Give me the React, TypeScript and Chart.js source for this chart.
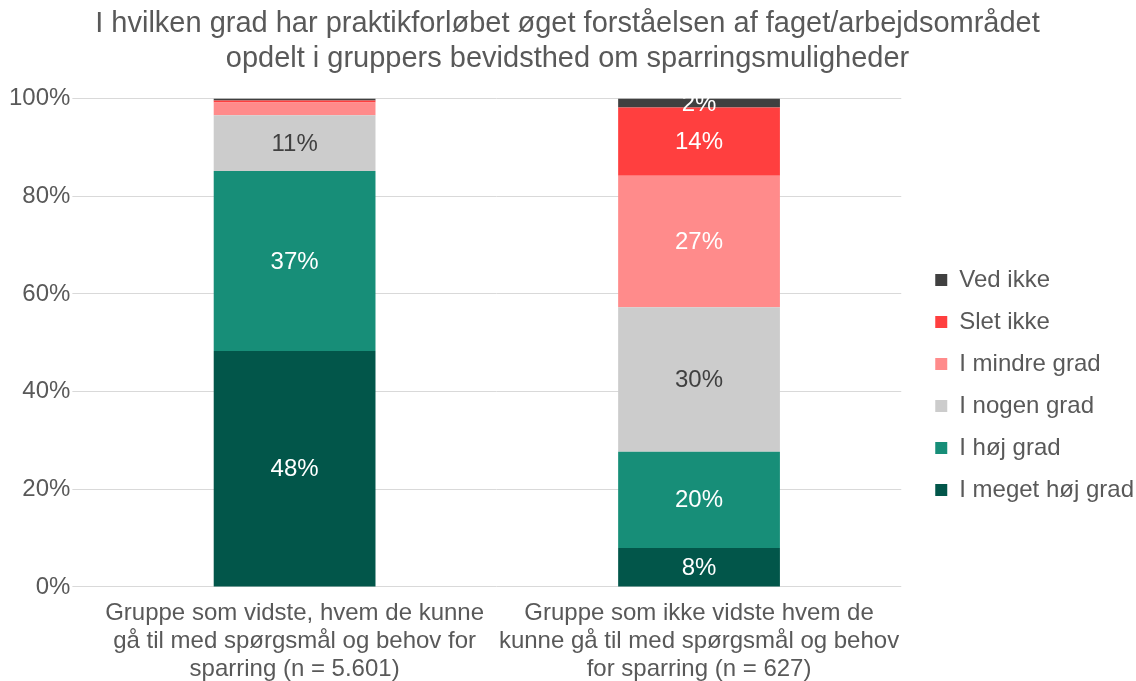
import React, { useEffect, useRef } from "react";
import { Chart, registerables } from "chart.js";

Chart.register(...registerables);

const titleLines = [
  "I hvilken grad har praktikforløbet øget forståelsen af faget/arbejdsområdet",
  "opdelt i gruppers bevidsthed om sparringsmuligheder",
];

const categories = [
  ["Gruppe som vidste, hvem de kunne", "gå til med spørgsmål og behov for", "sparring (n = 5.601)"],
  ["Gruppe som ikke vidste hvem de", "kunne gå til med spørgsmål og behov", "for sparring (n = 627)"],
];

const seriesNames = ["I meget høj grad", "I høj grad", "I nogen grad", "I mindre grad", "Slet ikke", "Ved ikke"];
const meget = [48.3, 8.0];
const hoej = [36.9, 19.7];
const nogen = [11.4, 29.6];
const mindre = [2.6, 26.9];
const slet = [0.4, 14.0];
const vedIkke = [0.4, 1.8];
const seriesColors = ["#02564a", "#178e78", "#cccccc", "#ff8b8b", "#ff3f3f", "#404040"];
const labelColors = ["#ffffff", "#ffffff", "#404040", "#ffffff", "#ffffff", "#ffffff"];
const minLabelValue = 1.5;
const showLabels = [
  [true, true],
  [true, true],
  [true, true],
  [false, true],
  [false, true],
  [false, true],
];
const yTicks = [0, 20, 40, 60, 80, 100];

const FONT = "'Liberation Sans', Arial, sans-serif";
const LEGEND_SHIFT = 16;

const labelPlugin = {
  id: "segLabels",
  afterLayout(chart: any) {
    const lg = chart.legend;
    if (lg) {
      lg.left += LEGEND_SHIFT;
      lg.right += LEGEND_SHIFT;
    }
  },
  afterDatasetsDraw(chart: any) {
    const ctx = chart.ctx;
    ctx.save();
    ctx.font = `24px ${FONT}`;
    ctx.textAlign = "center";
    ctx.textBaseline = "middle";
    chart.data.datasets.forEach((ds: any, di: number) => {
      const meta = chart.getDatasetMeta(di);
      meta.data.forEach((bar: any, i: number) => {
        const v = ds.data[i];
        if (!showLabels[di][i] || v < minLabelValue) return;
        const { x, y, base } = bar.getProps(["x", "y", "base"], true);
        ctx.fillStyle = labelColors[di];
        ctx.fillText(Math.round(v) + "%", x, (y + base) / 2 + 1);
      });
    });
    ctx.restore();
  },
};

export default function App() {
  const ref = useRef<HTMLCanvasElement | null>(null);
  useEffect(() => {
    if (!ref.current) return;
    const data = [meget, hoej, nogen, mindre, slet, vedIkke];
    const chart = new Chart(ref.current, {
      type: "bar",
      data: {
        labels: categories as any,
        datasets: seriesNames.map((n, i) => ({
          label: n,
          data: data[i],
          backgroundColor: seriesColors[i],
          borderWidth: 0,
          barPercentage: 0.4,
          categoryPercentage: 1,
        })),
      },
      options: {
        animation: false,
        responsive: false,
        maintainAspectRatio: false,
        layout: { padding: { right: 8, bottom: -14, left: 7, top: 0 } },
        plugins: {
          tooltip: { enabled: false },
          title: {
            display: true,
            text: titleLines,
            color: "#595959",
            font: { family: FONT, size: 29, weight: "normal", lineHeight: 1.2 },
            padding: { top: 7, bottom: 22 },
          },
          legend: {
            position: "right",
            reverse: true,
            align: "center",
            title: { display: true, text: " ", padding: { top: 21, bottom: 30 }, font: { size: 20 } },
            labels: {
              boxWidth: 12,
              boxHeight: 12,
              padding: 18,
              color: "#595959",
              font: { family: FONT, size: 24 },
            },
          },
        },
        scales: {
          x: {
            stacked: true,
            grid: { display: false, drawTicks: false },
            border: { display: false },
            ticks: {
              color: "#595959",
              font: { family: FONT, size: 24, lineHeight: 1.1667 },
              padding: 12,
              maxRotation: 0,
              autoSkip: false,
            },
          },
          y: {
            stacked: true,
            min: 0,
            max: 100,
            afterBuildTicks: (axis: any) => {
              axis.ticks = yTicks.map((v) => ({ value: v }));
            },
            grid: { color: "#d9d9d9", lineWidth: 1, drawTicks: true, tickLength: 20, tickColor: "#d9d9d9" },
            border: { display: false },
            ticks: {
              color: "#595959",
              font: { family: FONT, size: 24 },
              padding: 2,
              callback: (v: any) => v + "%",
            },
          },
        },
      },
      plugins: [labelPlugin],
    });
    return () => chart.destroy();
  }, []);
  return (
    <div style={{ position: "absolute", left: 0, top: 0, width: 1136, height: 681, background: "#fff" }}>
      <canvas ref={ref} width={1136} height={681} style={{ width: 1136, height: 681 }} />
    </div>
  );
}
